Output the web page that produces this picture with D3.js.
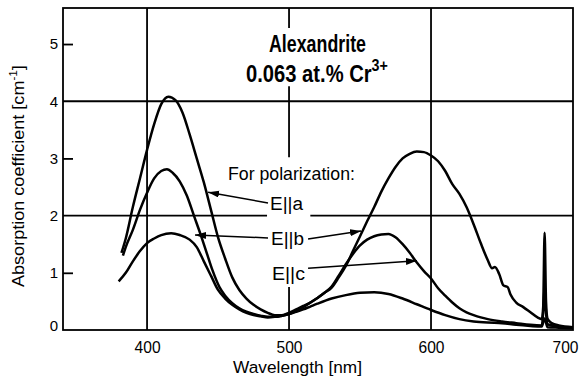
<!DOCTYPE html>
<html><head><meta charset="utf-8">
<script src="https://cdn.jsdelivr.net/npm/d3@7"></script>
<style>body{margin:0;background:#fff} svg{display:block}</style>
</head><body><svg id="c" width="581" height="378"></svg>
<script>
// ---- data (wavelength nm, absorption coefficient cm^-1) ----
const wlA  = [382,385,390,395,400,405,410,415,420,425,430,435,440,445,450,455,460,465,470,475,480,485,490,495,500,505,510,515,520,525,530,535,540,545,550,555,560,565,570,575,580,585,590,595,600,605,610,615,620,625,630,635,640,643,645,648,651,654,656,660,665,670,675,678,679,680,681,682,685,690,700];
const valA = [1.35,1.6,2.15,2.65,3.15,3.6,3.95,4.08,4.02,3.8,3.42,3.0,2.58,2.1,1.62,1.25,0.92,0.7,0.55,0.44,0.36,0.3,0.26,0.26,0.3,0.36,0.42,0.48,0.56,0.65,0.74,0.92,1.12,1.38,1.64,1.9,2.15,2.42,2.65,2.85,3.0,3.08,3.12,3.11,3.05,2.95,2.78,2.55,2.38,2.15,1.85,1.52,1.22,1.08,1.1,0.98,0.78,0.75,0.62,0.48,0.4,0.31,0.22,0.19,0.4,1.7,0.5,0.2,0.12,0.08,0.05];
const wlB  = [383,385,390,395,400,405,410,414,418,423,428,433,438,442,446,451,455,460,465,470,475,480,485,490,495,500,505,510,515,520,525,530,535,540,545,550,555,560,565,570,575,580,585,590,595,600,605,610,615,620,625,630,635,640,650,660,670,678,679,680,681,682,690,700];
const valB = [1.3,1.45,1.75,2.1,2.4,2.65,2.78,2.81,2.75,2.6,2.35,2.0,1.65,1.35,1.05,0.75,0.6,0.47,0.38,0.32,0.28,0.25,0.23,0.23,0.25,0.28,0.33,0.4,0.48,0.56,0.65,0.76,0.95,1.15,1.33,1.48,1.58,1.64,1.67,1.68,1.62,1.5,1.35,1.18,1.03,0.9,0.73,0.6,0.48,0.38,0.31,0.26,0.22,0.19,0.15,0.12,0.09,0.08,0.3,0.75,0.3,0.1,0.06,0.04];
const wlC  = [380,385,390,395,400,405,410,417,423,430,435,440,445,450,455,460,465,470,475,480,485,490,495,500,505,510,515,520,530,540,550,560,570,580,590,600,610,620,630,640,650,660,670,678,680,682,690,700];
const valC = [0.85,1.0,1.2,1.38,1.52,1.6,1.66,1.69,1.66,1.58,1.45,1.2,0.95,0.7,0.55,0.44,0.36,0.3,0.26,0.24,0.22,0.23,0.25,0.28,0.32,0.36,0.41,0.46,0.55,0.61,0.65,0.66,0.63,0.55,0.45,0.35,0.26,0.19,0.15,0.13,0.12,0.09,0.07,0.06,0.2,0.05,0.04,0.03];

const xTicks = [400,500,600,700];
const yTicks = [0,1,2,3,4,5];
const yMinorTicks = [1,3,5];
const seriesLabels = ["E||a","E||b","E||c"];
const titleLine1 = "Alexandrite";
const titleLine2 = "0.063 at.% Cr";
const titleSup = "3+";
const legendHead = "For polarization:";
const xTitle = "Wavelength [nm]";
const yTitle = "Absorption coefficient [cm";
const yTitleSup = "-1";

// ---- layout ----
const svg = d3.select("#c");
const x = d3.scaleLinear().domain([340.8,700]).range([63,573]);
const y = d3.scaleLinear().domain([0,5.63]).range([330,8]);
const [x0,x1] = x.domain(), [y0,y1] = y.domain();
const FONT = "'Liberation Sans', Arial, Helvetica, sans-serif";

svg.append("rect").attr("width",581).attr("height",378).attr("fill","#fff");

// grid (some segments interrupted by labels, as in the original)
const hGrid = [{v:4,a:x0,b:x1},{v:2,a:x0,b:484.5},{v:2,a:515,b:x1}];
const vGrid = [{w:400,a:y0,b:y1},{w:600,a:y0,b:y1},{w:500,a:y0,b:0.75},{w:500,a:3.02,b:4.26},{w:500,a:5.28,b:y1}];
const g = svg.append("g").attr("stroke","#000").attr("stroke-width",1.8).attr("fill","none");
g.selectAll(".h").data(hGrid).join("line")
  .attr("x1",d=>x(d.a)).attr("x2",d=>x(d.b)).attr("y1",d=>y(d.v)).attr("y2",d=>y(d.v));
g.selectAll(".v").data(vGrid).join("line")
  .attr("x1",d=>x(d.w)).attr("x2",d=>x(d.w)).attr("y1",d=>y(d.a)).attr("y2",d=>y(d.b));

// frame
svg.append("rect").attr("x",x(x0)).attr("y",y(y1)).attr("width",x(x1)-x(x0)).attr("height",y(y0)-y(y1))
  .attr("fill","none").attr("stroke","#000").attr("stroke-width",1.8);

// inner ticks
const inner = svg.append("g").attr("transform",`translate(${x(x0)},0)`)
  .call(d3.axisRight(y).tickValues(yMinorTicks).tickSize(10).tickFormat(""));
inner.select(".domain").remove();
inner.selectAll("line").attr("stroke-width",1.8);

// y axis labels
const ya = svg.append("g").attr("transform",`translate(${x(x0)},0)`)
  .call(d3.axisLeft(y).tickValues(yTicks).tickSize(0).tickPadding(5).tickFormat(d3.format("d")));
ya.select(".domain").remove();
ya.selectAll("text").attr("font-family",FONT).attr("font-size",15).attr("fill","#000")
  .attr("dy",d=>d===0?"0":"0.32em");

// x axis labels
const xa = svg.append("g").attr("transform",`translate(0,${y(y0)})`)
  .call(d3.axisBottom(x).tickValues(xTicks).tickSize(0).tickPadding(11).tickFormat(d3.format("d")));
xa.select(".domain").remove();
xa.selectAll("text").attr("font-family",FONT).attr("font-size",17).attr("fill","#000")
  .attr("textLength",26).attr("lengthAdjust","spacingAndGlyphs")
  .attr("x",d=>d===700?-8:0);

// curves
svg.append("clipPath").attr("id","clip").append("rect")
  .attr("x",x(x0)).attr("y",y(y1)).attr("width",x(x1)-x(x0)).attr("height",y(y0)-y(y1));
const line = d3.line().x(d=>x(d[0])).y(d=>y(d[1])).curve(d3.curveMonotoneX);
const series = [d3.zip(wlA,valA), d3.zip(wlB,valB), d3.zip(wlC,valC)];
svg.append("g").attr("clip-path","url(#clip)").selectAll("path").data(series).join("path")
  .attr("d",line).attr("fill","none").attr("stroke","#000").attr("stroke-width",2.5)
  .attr("stroke-linejoin","round");

// text helper: horizontally condensed text fitted to a width
function fitted(px, py, size, width, bold, parts){
  const t = svg.append("text").attr("font-family",FONT).attr("font-size",size)
    .attr("font-weight",bold?"bold":"normal").attr("fill","#000");
  parts.forEach(p=>{
    const s = t.append("tspan").text(p.text);
    if(p.size) s.attr("font-size",p.size);
    if(p.dy) s.attr("dy",p.dy);
  });
  const w = t.node().getComputedTextLength();
  t.attr("transform",`translate(${px},${py}) scale(${width/w},1)`);
  return t;
}
fitted(x(485.9), y(4.86), 24, 97, true, [{text:titleLine1}]);
fitted(x(469.7), y(4.34), 24, 142, true, [{text:titleLine2},{text:titleSup,size:17,dy:-11}]);
fitted(x(457.0), y(2.62), 18, 127, false, [{text:legendHead}]);
const labPos = [{w:486.6,v:2.10},{w:487.3,v:1.49},{w:488.0,v:0.87}];
seriesLabels.forEach((s,i)=>fitted(x(labPos[i].w), y(labPos[i].v), 18, 33, false, [{text:s}]));

// axis titles
fitted(x(460.6), 373, 17, 129, false, [{text:xTitle}]);
const yt = svg.append("text").attr("font-family",FONT).attr("font-size",17);
yt.append("tspan").text(yTitle);
yt.append("tspan").text(yTitleSup).attr("font-size",11).attr("dy",-7);
yt.append("tspan").text("]").attr("dy",7);
const bb = yt.node().getComputedTextLength();
yt.attr("transform",`translate(23.5,287) rotate(-90) scale(${222/bb},1)`);

// arrows
const defs = svg.append("defs");
defs.append("marker").attr("id","ah").attr("markerUnits","userSpaceOnUse")
  .attr("markerWidth",12).attr("markerHeight",8).attr("refX",11).attr("refY",3.5)
  .attr("orient","auto").append("path").attr("d","M0,0L11,3.5L0,7Z").attr("fill","#000");
const arrows = [
  {a:[485.2,2.22], b:[443.0,2.41]},
  {a:[485.2,1.61], b:[433.8,1.66]},
  {a:[513.4,1.59], b:[550.7,1.73]},
  {a:[513.4,1.08], b:[590.1,1.21]}
];
svg.selectAll(".arr").data(arrows).join("line")
  .attr("x1",d=>x(d.a[0])).attr("y1",d=>y(d.a[1])).attr("x2",d=>x(d.b[0])).attr("y2",d=>y(d.b[1]))
  .attr("stroke","#000").attr("stroke-width",1.5).attr("marker-end","url(#ah)");
</script></body></html>
